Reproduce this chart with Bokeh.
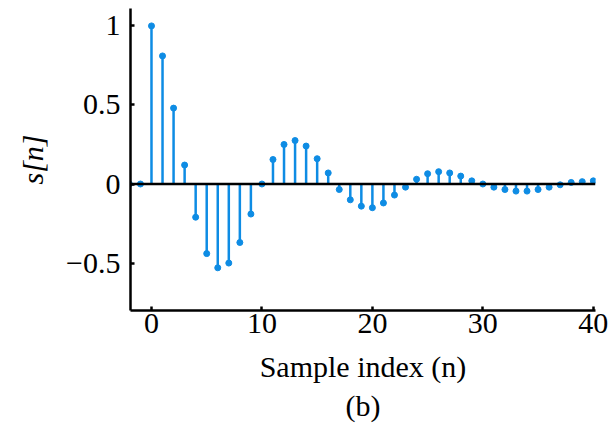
from bokeh.plotting import figure
from bokeh.models import ColumnDataSource, Range1d, Span, Title, FixedTicker
from bokeh.embed import file_html
from bokeh.resources import INLINE

# Sample indices and the damped-oscillation samples s[n]
n_index = list(range(-2, 41))
s_values = [
    0.0, 0.0,
    1.0, 0.81, 0.48, 0.12, -0.21, -0.44, -0.53, -0.50, -0.37, -0.19,
    0.0, 0.155, 0.25, 0.275, 0.24, 0.16, 0.07, -0.035, -0.10, -0.14,
    -0.15, -0.12, -0.07, -0.02, 0.03, 0.065, 0.078, 0.07, 0.05, 0.02,
    0.0, -0.02, -0.035, -0.045, -0.045, -0.035, -0.02, -0.005, 0.01, 0.015,
    0.02,
]
x_ticks = [0, 10, 20, 30, 40]
y_ticks = [-0.5, 0, 0.5, 1]
y_tick_text = {-0.5: "\u22120.5", 0: "0", 0.5: "0.5", 1: "1"}

STEM = "#0E8CE4"
SERIF = "Liberation Serif"

p = figure(width=613, height=429,
           x_range=Range1d(-1.9, 40.2), y_range=Range1d(-0.80, 1.11),
           output_backend="svg", toolbar_location=None,
           min_border_left=130, min_border_right=18,
           min_border_top=8, min_border_bottom=119)
p.outline_line_color = None
p.grid.visible = False
p.background_fill_color = "white"
p.border_fill_color = "white"

src = ColumnDataSource(dict(n=n_index, s=s_values, base=[0.0] * len(n_index)))

# baseline at zero
p.add_layout(Span(location=0, dimension="width", line_color="black", line_width=2.5))

# stems and their tips
p.segment(x0="n", y0="base", x1="n", y1="s", source=src, line_color=STEM, line_width=2.5)
p.scatter(x="n", y="s", source=src, size=6, color=STEM)

for ax in (p.xaxis[0], p.yaxis[0]):
    ax.axis_line_color = "black"
    ax.axis_line_width = 2.5
    ax.major_tick_line_color = "black"
    ax.major_tick_line_width = 2.5
    ax.major_tick_in = 4
    ax.major_tick_out = 0
    ax.minor_tick_line_color = None
    ax.major_label_text_font = SERIF
    ax.major_label_text_font_size = "30px"
    ax.major_label_text_color = "black"
    ax.axis_label_text_font = SERIF
    ax.axis_label_text_font_size = "30px"
    ax.axis_label_text_color = "black"

p.xaxis.ticker = FixedTicker(ticks=x_ticks)
p.yaxis.ticker = FixedTicker(ticks=y_ticks)
p.yaxis.major_label_overrides = y_tick_text
p.xaxis.major_label_standoff = 3
p.yaxis.major_label_standoff = 10

p.xaxis.axis_label = "Sample index (n)"
p.xaxis.axis_label_text_font_style = "normal"
p.xaxis.axis_label_standoff = 14
p.yaxis.axis_label = "s[n]"
p.yaxis.axis_label_text_font_style = "italic"
p.yaxis.axis_label_standoff = 14

# panel caption under the axis title
p.add_layout(Title(text="(b)", align="center", text_font=SERIF, text_font_size="30px",
                   text_font_style="normal", text_color="black", standoff=2), "below")

open("out.html", "w").write(file_html(p, INLINE))
